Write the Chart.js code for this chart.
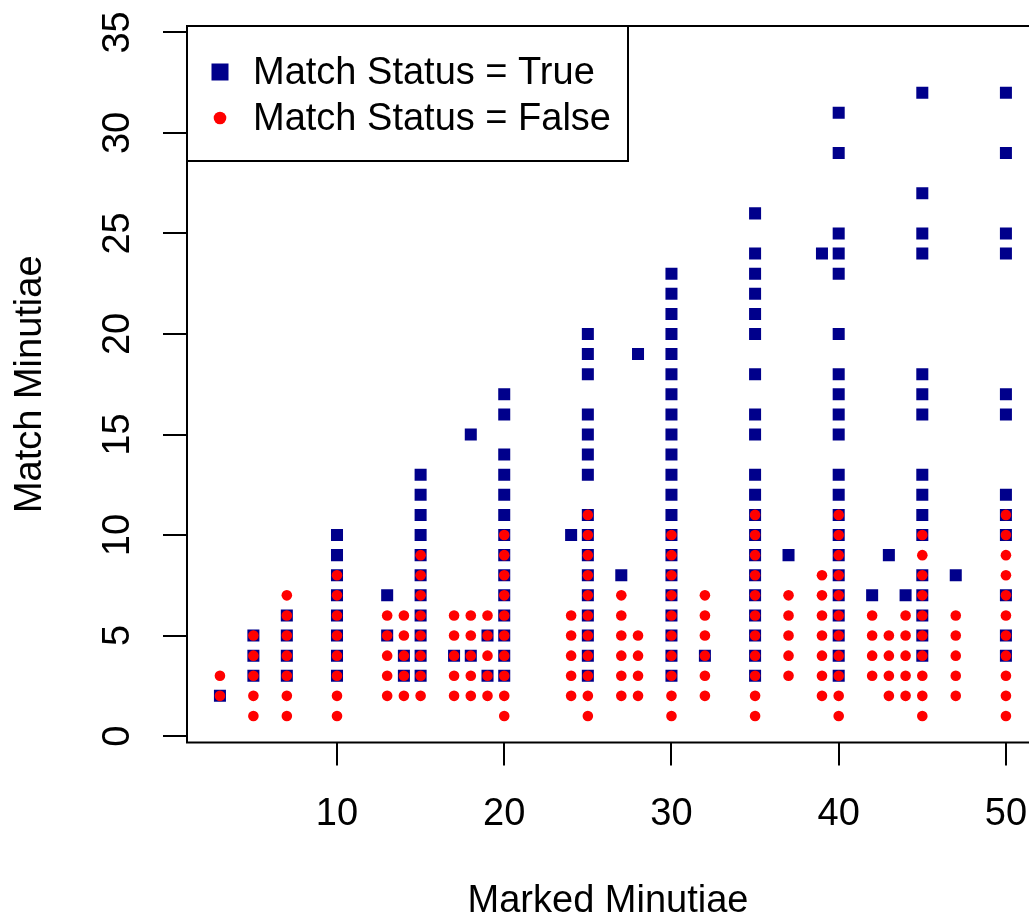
<!DOCTYPE html>
<html lang="en">
<head>
<meta charset="UTF-8">
<title>Match Minutiae vs Marked Minutiae</title>
<script src="https://cdn.jsdelivr.net/npm/chart.js"></script>
<style>
  body { margin: 0; background: #fff; }
  #wrap { width: 1029px; height: 919px; }
</style>
</head>
<body>
<div id="wrap"><canvas id="chart" width="1029" height="919"></canvas></div>
<script>
// marked minutiae (x) and the match minutiae values found at each one
const trueMarked = [3, 5, 7, 10, 13, 14, 15, 17, 18, 19, 20, 24, 25, 27, 28, 30, 32, 35, 37, 39, 40, 42, 43, 44, 45, 47, 50];
const trueMatch = [
  [2],
  [3, 4, 5],
  [3, 4, 5, 6],
  [3, 4, 5, 6, 7, 8, 9, 10],
  [5, 7],
  [3, 4],
  [3, 4, 5, 6, 7, 8, 9, 10, 11, 12, 13],
  [4],
  [4, 15],
  [3, 5],
  [3, 4, 5, 6, 7, 8, 9, 10, 11, 12, 13, 14, 16, 17],
  [10],
  [3, 4, 5, 6, 7, 8, 9, 10, 11, 13, 14, 15, 16, 18, 19, 20],
  [8],
  [19],
  [3, 4, 5, 6, 7, 8, 9, 10, 11, 12, 13, 14, 15, 16, 17, 18, 19, 20, 21, 22, 23],
  [4],
  [3, 4, 5, 6, 7, 8, 9, 10, 11, 12, 13, 15, 16, 18, 20, 21, 22, 23, 24, 26],
  [9],
  [24],
  [3, 4, 5, 6, 7, 8, 9, 10, 11, 12, 13, 15, 16, 17, 18, 20, 23, 24, 25, 29, 31],
  [7],
  [9],
  [7],
  [4, 5, 6, 7, 8, 10, 11, 12, 13, 16, 17, 18, 24, 25, 27, 32],
  [8],
  [4, 5, 7, 10, 11, 12, 16, 17, 24, 25, 29, 32]
];

const falseMarked = [3, 5, 7, 10, 13, 14, 15, 17, 18, 19, 20, 24, 25, 27, 28, 30, 32, 35, 37, 39, 40, 42, 43, 44, 45, 47, 50];
const falseMatch = [
  [2, 3],
  [1, 2, 3, 4, 5],
  [1, 2, 3, 4, 5, 6, 7],
  [1, 2, 3, 4, 5, 6, 7, 8],
  [2, 3, 4, 5, 6],
  [2, 3, 4, 5, 6],
  [2, 3, 4, 5, 6, 7, 8, 9],
  [2, 3, 4, 5, 6],
  [2, 3, 4, 5, 6],
  [2, 3, 4, 5, 6],
  [1, 2, 3, 4, 5, 6, 7, 8, 9, 10],
  [2, 3, 4, 5, 6],
  [1, 2, 3, 4, 5, 6, 7, 8, 9, 10, 11],
  [2, 3, 4, 5, 6, 7],
  [2, 3, 4, 5],
  [1, 2, 3, 4, 5, 6, 7, 8, 9, 10],
  [2, 3, 4, 5, 6, 7],
  [1, 2, 3, 4, 5, 6, 7, 8, 9, 10, 11],
  [3, 4, 5, 6, 7],
  [2, 3, 4, 5, 6, 7, 8],
  [1, 2, 3, 4, 5, 6, 7, 8, 9, 10, 11],
  [3, 4, 5, 6],
  [2, 3, 4, 5],
  [2, 3, 4, 5, 6],
  [1, 2, 3, 4, 5, 6, 7, 8, 9, 10],
  [2, 3, 4, 5, 6],
  [1, 2, 3, 4, 5, 6, 7, 8, 9, 10, 11]
];

const xTicks = [10, 20, 30, 40, 50];
const yTicks = [0, 5, 10, 15, 20, 25, 30, 35];

function toPoints(xs, ys) {
  const pts = [];
  xs.forEach((x, i) => ys[i].forEach(y => pts.push({ x: x, y: y })));
  return pts;
}

const FONT = "'Liberation Sans', Arial, sans-serif";

// no extra room for overhanging tick labels, the plot box is fixed
function noPad(s) {
  s.paddingLeft = 0; s.paddingRight = 0; s.paddingTop = 0; s.paddingBottom = 0;
}

// box around the plot + legend box drawn R style
const boxPlugin = {
  id: 'rbox',
  afterDraw(chart) {
    const { ctx, chartArea } = chart;
    ctx.save();
    ctx.strokeStyle = '#000';
    ctx.lineWidth = 2;
    ctx.strokeRect(chartArea.left, chartArea.top, chartArea.right - chartArea.left + 20, chartArea.bottom - chartArea.top);

    // legend
    const lx = chartArea.left, ly = chartArea.top;
    ctx.fillStyle = '#fff';
    ctx.fillRect(lx, ly, 441, 135);
    ctx.strokeRect(lx, ly, 441, 135);
    ctx.font = '38px ' + FONT;
    ctx.textBaseline = 'middle';
    ctx.textAlign = 'left';
    chart.data.datasets.forEach((ds, i) => {
      const cy = ly + 46 + i * 46;
      ctx.fillStyle = ds.backgroundColor;
      if (ds.pointStyle === 'rect') {
        ctx.fillRect(lx + 24.5, cy - 8.5, 17, 17);
      } else {
        ctx.beginPath();
        ctx.arc(lx + 33, cy, 6.3, 0, Math.PI * 2);
        ctx.fill();
      }
      ctx.fillStyle = '#000';
      ctx.fillText(ds.label, lx + 66, cy + 1.5);
    });
    ctx.restore();
  }
};

new Chart(document.getElementById('chart'), {
  type: 'scatter',
  data: {
    datasets: [
      {
        label: 'Match Status = True',
        data: toPoints(trueMarked, trueMatch),
        backgroundColor: '#00008B',
        pointStyle: 'rect',
        pointRadius: 8.5,
        pointBorderWidth: 0,
        order: 2
      },
      {
        label: 'Match Status = False',
        data: toPoints(falseMarked, falseMatch),
        backgroundColor: '#FF0000',
        pointStyle: 'circle',
        pointRadius: 5.3,
        pointBorderWidth: 0,
        order: 1
      }
    ]
  },
  options: {
    responsive: false,
    devicePixelRatio: 1,
    animation: false,
    layout: { autoPadding: false, padding: { left: 0, top: 26, right: 0, bottom: 0 } },
    plugins: {
      legend: { display: false },
      tooltip: { enabled: false }
    },
    scales: {
      x: {
        type: 'linear',
        position: 'bottom',
        min: 1.03,
        max: 51.38,
        afterBuildTicks: s => { s.ticks = xTicks.map(v => ({ value: v })); },
        afterFit: s => { s.height = 176.5; noPad(s); },
        grid: { drawOnChartArea: false, drawTicks: true, tickLength: 23, color: '#000', lineWidth: 2 },
        border: { display: false },
        ticks: { color: '#000', padding: 26, font: { family: FONT, size: 38 }, maxRotation: 0, autoSkip: false },
        title: {
          display: true, text: 'Marked Minutiae', color: '#000',
          font: { family: FONT, size: 38, lineHeight: 0.9 }, padding: 0
        }
      },
      y: {
        type: 'linear',
        min: -0.32,
        max: 35.32,
        afterBuildTicks: s => { s.ticks = yTicks.map(v => ({ value: v })); },
        afterFit: s => { s.width = 187; noPad(s); },
        grid: { drawOnChartArea: false, drawTicks: true, tickLength: 24, color: '#000', lineWidth: 2 },
        border: { display: false },
        ticks: {
          color: '#000', padding: 23, font: { family: FONT, size: 38 },
          minRotation: 90, maxRotation: 90, crossAlign: 'center', autoSkip: false
        },
        title: {
          display: true, text: 'Match Minutiae', color: '#000',
          font: { family: FONT, size: 38, lineHeight: 0.9 }, padding: { top: 13, bottom: 0 }
        }
      }
    }
  },
  plugins: [boxPlugin]
});
</script>
</body>
</html>
